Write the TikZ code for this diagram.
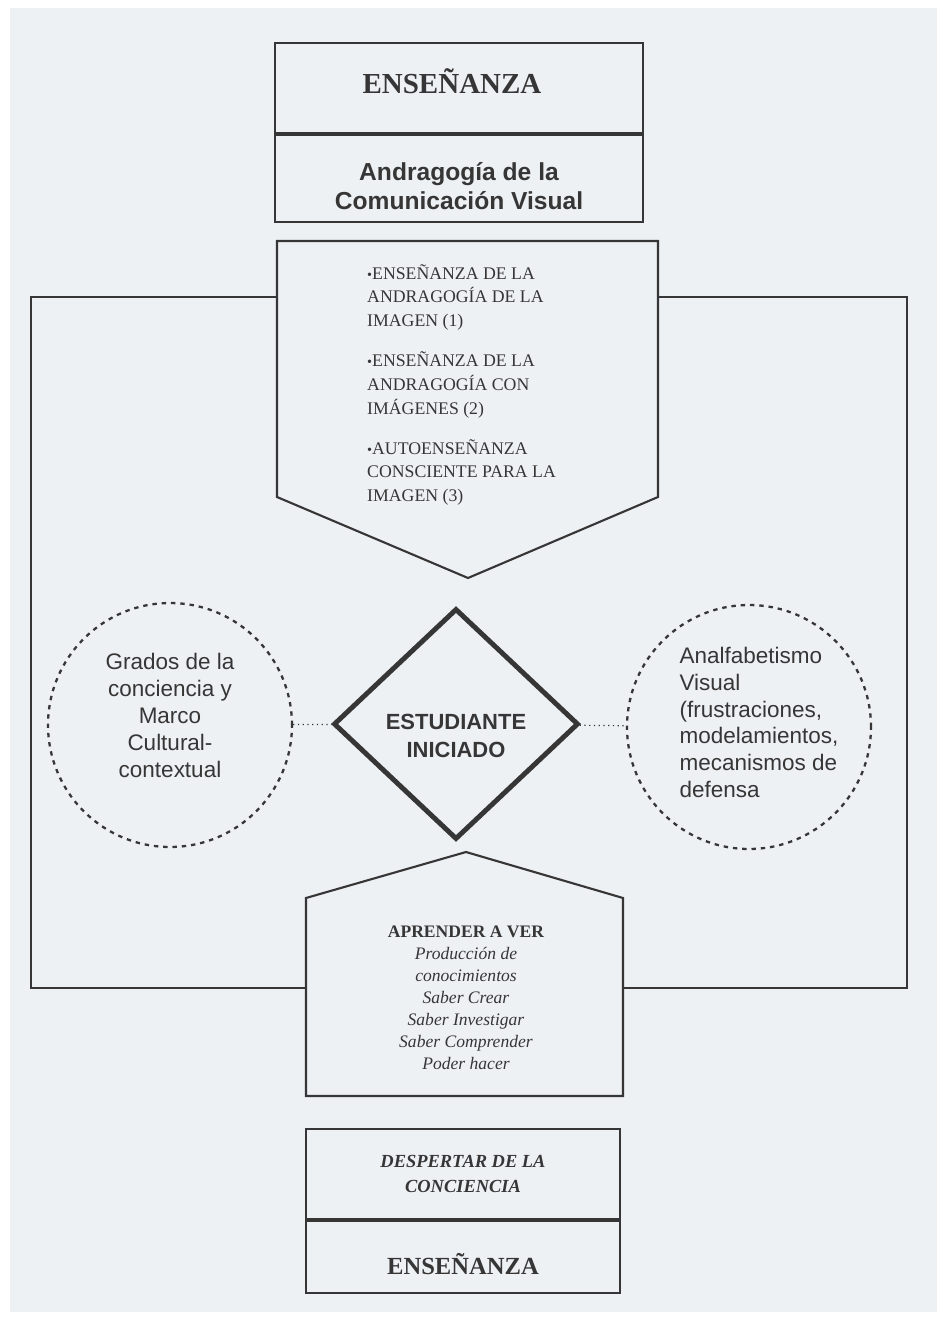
\documentclass[tikz,border=0pt]{standalone}
\usepackage{fontspec}
\setmainfont{Liberation Serif}
\setsansfont{Liberation Sans}
\usetikzlibrary{shapes.geometric}

\definecolor{papel}{HTML}{EEF1F4}
\definecolor{tinta}{HTML}{363636}

\begin{document}
\begin{tikzpicture}[
        x=0.02cm, y=-0.02cm,
        every node/.style={text=tinta},
        every label/.style={text=tinta, inner sep=0pt},
        caja/.style={rectangle, draw=tinta, line width=1.2pt, inner sep=0pt, align=center},
        marco/.style={draw=tinta, line width=1.2pt, line join=miter},
        nube/.style={circle, draw=tinta, line width=1.3pt, dash pattern=on 2.5pt off 2.8pt, minimum size=4.88cm, inner sep=0pt},
        rombo/.style={diamond, draw=tinta, line width=2.8pt, minimum width=4.9cm, minimum height=4.62cm, inner sep=0pt},
        enlace/.style={draw=tinta, line width=0.7pt, dotted},
        textonube/.style={font=\sffamily\fontsize{12.8}{15.3}\selectfont}
        ]
    \fill[white] (0,0) rectangle (945,1318);
    \fill[papel] (10,8) rectangle (937,1312);
    \useasboundingbox (0,0) rectangle (945,1318);

    % caja superior
    \node[caja, minimum width=7.36cm, minimum height=1.8cm,
          label={[font=\bfseries\fontsize{16.5}{19}\selectfont, xshift=-0.14cm, yshift=0.14cm]center:ENSEÑANZA}] (ensA) at (459,88) {};
    \node[caja, minimum width=7.36cm, minimum height=1.74cm, anchor=north,
          label={[font=\sffamily\bfseries\fontsize{14}{16.5}\selectfont, align=center, yshift=-0.16cm]center:{Andragogía de la\\Comunicación Visual}}] (andra) at (ensA.south) {};

    % flecha hacia abajo
    \draw[marco] (277,241) -- (658,241) -- (658,497) -- (468,578) -- (277,497) -- cycle;
    \node[anchor=north west, align=left, font=\fontsize{10.1}{13.6}\selectfont] (lista) at (361,258)
        {\scalebox{0.8}{\textbullet}ENSEÑANZA DE LA\\ANDRAGOGÍA DE LA\\IMAGEN (1)\\[9pt]
         \scalebox{0.8}{\textbullet}ENSEÑANZA DE LA\\ANDRAGOGÍA CON\\IMÁGENES (2)\\[9pt]
         \scalebox{0.8}{\textbullet}AUTOENSEÑANZA\\CONSCIENTE PARA LA\\IMAGEN (3)};

    % marco exterior
    \coordinate (pIzq) at (277,297);
    \coordinate (pDer) at (658,297);
    \coordinate (cIzq) at (306,988);
    \coordinate (cDer) at (623,988);
    \coordinate (mTL) at (31,297);
    \coordinate (mBL) at (31,988);
    \coordinate (mTR) at (907,297);
    \coordinate (mBR) at (907,988);
    \draw[marco] (pIzq) -- (mTL) -- (mBL) -- (cIzq);
    \draw[marco] (pDer) -- (mTR) -- (mBR) -- (cDer);

    % centro
    \node[rombo, label={[font=\sffamily\bfseries\fontsize{12.5}{15.9}\selectfont, align=center, yshift=-0.24cm]center:{ESTUDIANTE\\INICIADO}}] (estudiante) at (456,724) {};
    \node[nube, label={[textonube, align=center, yshift=0.19cm]center:{Grados de la\\conciencia y\\Marco\\Cultural-\\contextual}}] (grados) at (170,725) {};
    \node[nube, label={[textonube, align=left, xshift=0.2cm, yshift=0.09cm]center:{Analfabetismo\\Visual\\(frustraciones,\\modelamientos,\\mecanismos de\\defensa}}] (analf) at (749,727) {};
    \draw[enlace] (grados) -- (estudiante);
    \draw[enlace] (estudiante) -- (analf);

    % flecha hacia arriba
    \draw[marco] (306,898) -- (466,852) -- (623,898) -- (623,1096) -- (306,1096) -- cycle;
    \node[align=center, font=\fontsize{10}{12.5}\selectfont] (aprender) at (466,998)
        {\textbf{APRENDER A VER}\\\textit{Producción de}\\\textit{conocimientos}\\\textit{Saber Crear}\\\textit{Saber Investigar}\\\textit{Saber Comprender}\\\textit{Poder hacer}};

    % caja inferior
    \node[caja, minimum width=6.28cm, minimum height=1.8cm, font=\bfseries\itshape\fontsize{10.5}{14}\selectfont] (despertar) at (463,1174) {DESPERTAR DE LA\\CONCIENCIA};
    \node[caja, minimum width=6.28cm, minimum height=1.44cm, anchor=north,
          label={[font=\bfseries\fontsize{14}{16}\selectfont, yshift=-0.14cm]center:ENSEÑANZA}] (ensB) at (despertar.south) {};
\end{tikzpicture}
\end{document}
